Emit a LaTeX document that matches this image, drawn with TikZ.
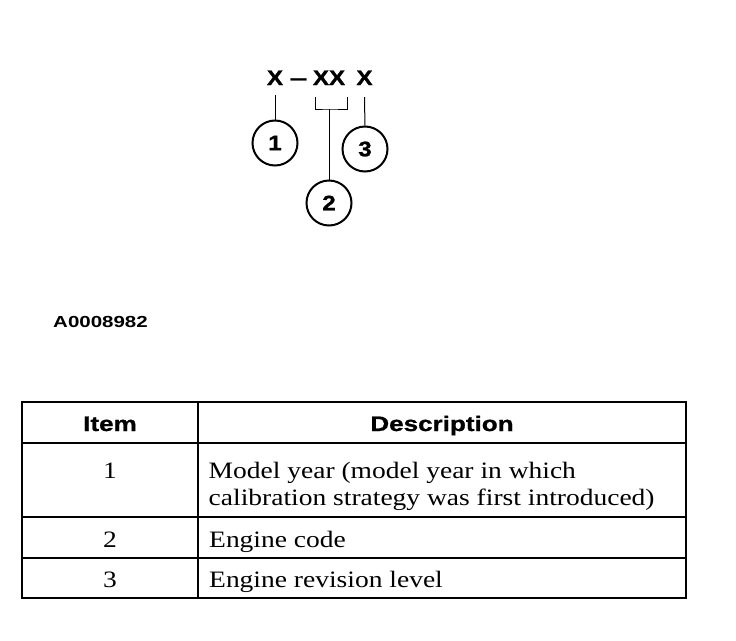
\documentclass[tikz,border=0pt]{standalone}
\usepackage{fontspec}
\setmainfont{Liberation Serif}[FakeStretch=1.17]
\newfontfamily\codefont{Liberation Sans}[FakeStretch=1.15,BoldFeatures={FakeBold=1.2}]
\newfontfamily\headfont{Liberation Sans}[FakeStretch=1.24,BoldFeatures={FakeBold=1}]
\newfontfamily\labelfont{Liberation Sans}[FakeStretch=1.28]
\usetikzlibrary{positioning}

\tikzset{
  code/.style={inner sep=0pt,anchor=base,font=\codefont\bfseries\fontsize{21}{21}\selectfont},
  callout/.style={circle,draw,line width=2pt,minimum size=45pt,inner sep=0pt,
    font=\codefont\bfseries\fontsize{21}{21}\selectfont},
  leader/.style={line width=1pt},
  rule/.style={line width=2pt},
  head/.style={inner sep=0pt,anchor=base,font=\headfont\bfseries\fontsize{21}{21}\selectfont},
  body/.style={inner sep=0pt,font=\fontsize{23.5}{20}\selectfont}
}

\begin{document}
\begin{tikzpicture}[x=1pt,y=-1pt]
  \useasboundingbox (0,0) rectangle (736,640);
  % Code
  \node[code] (x1) at (275,85) {X};
  \node[code] (dash) at (298.5,85) {\scalebox{1.3}[1]{–}};
  \node[code] (xx) at (329,85) {XX};
  \node[code] (x3) at (364.5,85) {X};
  % Callouts
  \node[callout] (c1) at (275,143) {1};
  \node[callout] (c2) at (329,203) {2};
  \node[callout] (c3) at (365,149) {3};
  % Leaders
  \coordinate (bl) at (315,97);
  \coordinate (br) at (347,97);
  \coordinate (bm) at (329,109);
  \draw[leader,shorten <=10pt] (x1) -- (c1);
  \draw[leader,shorten <=12pt] (x3) -- (c3);
  \draw[leader] (bl) |- (bm) -| (br);
  \draw[leader] (bm) -- (c2);
  % Figure number
  \node[inner sep=0pt,anchor=base,font=\labelfont\bfseries\fontsize{16}{16}\selectfont]
    (fig) at (100.5,327) {A0008982};

  % Table
  \draw[rule] (22,402) rectangle (686,598);
  \foreach \y in {442.5,517,558}
    \draw[rule] (22,\y) -- (686,\y);
  \draw[rule] (198,402) -- (198,598);
  \node[head] (hitem) at (110,431) {Item};
  \node[head] (hdesc) at (442,431) {Description};
  \node[body,anchor=base] (i1) at (110,478) {1};
  \node[body,anchor=base] (i2) at (110,547) {2};
  \node[body,anchor=base] (i3) at (110,587) {3};
  \node[body,anchor=base west] (d1) at (208.5,478) {Model year (model year in which};
  \node[body,anchor=base west] (d1b) at (208.5,505) {calibration strategy was first introduced)};
  \node[body,anchor=base west] (d2) at (209,547) {Engine code};
  \node[body,anchor=base west] (d3) at (209,587) {Engine revision level};
\end{tikzpicture}
\end{document}
